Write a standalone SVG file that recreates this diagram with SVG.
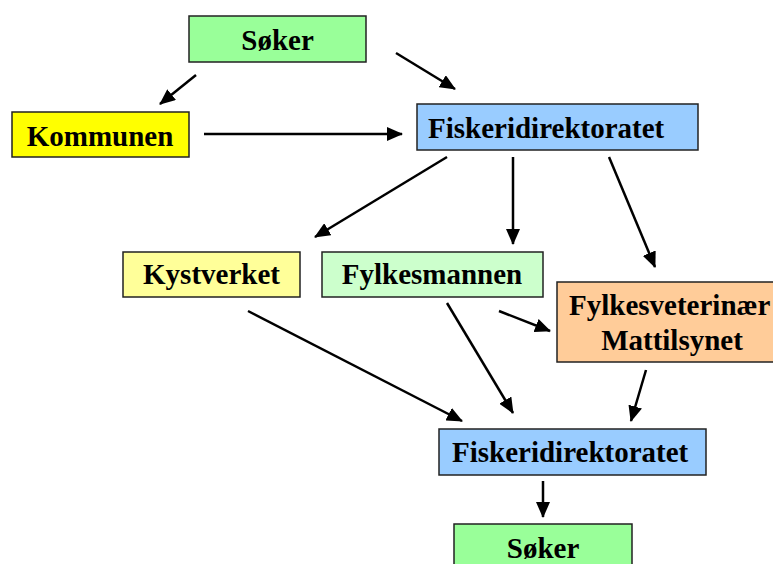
<svg xmlns="http://www.w3.org/2000/svg" width="773" height="564" viewBox="0 0 773 564">
<defs>
<marker id="ah" markerUnits="userSpaceOnUse" markerWidth="16" markerHeight="14" viewBox="0 0 16 14" refX="15" refY="7" orient="auto">
<path d="M0,0 L16,7 L0,14 z" fill="#000"/>
</marker>
<style>
.box{stroke:#222;stroke-width:1.5}
.t{font-family:"Liberation Serif","Times New Roman",serif;font-weight:bold;font-size:29px;fill:#000}
.c line{stroke:#000;stroke-width:2.5;marker-end:url(#ah)}
</style>
</defs>
<rect width="773" height="564" fill="#fff"/>
<g id="soker1"><rect class="box" x="189" y="16" width="177" height="46" fill="#99FF99"/><text class="t" x="277.5" y="50" text-anchor="middle">Søker</text></g>
<g id="kommunen"><rect class="box" x="12" y="112" width="177" height="45" fill="#FFFF00"/><text class="t" x="100" y="145.5" text-anchor="middle">Kommunen</text></g>
<g id="fisk1"><rect class="box" x="417" y="104" width="281" height="46" fill="#99CCFF"/><text class="t" x="428" y="137.5">Fiskeridirektoratet</text></g>
<g id="kystverket"><rect class="box" x="123" y="252" width="177" height="45" fill="#FFFF99"/><text class="t" x="211.5" y="283.5" text-anchor="middle">Kystverket</text></g>
<g id="fylkesmannen"><rect class="box" x="322" y="252" width="221" height="45" fill="#CCFFCC"/><text class="t" x="432" y="283.5" text-anchor="middle">Fylkesmannen</text></g>
<g id="fylkesvet"><rect class="box" x="557" y="282" width="230" height="80" fill="#FFCC99"/><text class="t" x="569" y="315">Fylkesveterinær</text><text class="t" x="672" y="350" text-anchor="middle">Mattilsynet</text></g>
<g id="fisk2"><rect class="box" x="439" y="429" width="267" height="46" fill="#99CCFF"/><text class="t" x="452" y="461.5">Fiskeridirektoratet</text></g>
<g id="soker2"><rect class="box" x="454" y="524" width="178" height="50" fill="#99FF99"/><text class="t" x="543" y="558" text-anchor="middle">Søker</text></g>
<g id="connectors" class="c">
<line x1="196" y1="75" x2="160" y2="104"/>
<line x1="396" y1="53" x2="455" y2="89"/>
<line x1="204" y1="134" x2="402" y2="134"/>
<line x1="447" y1="157" x2="315" y2="237"/>
<line x1="513" y1="157" x2="513" y2="244"/>
<line x1="609" y1="157" x2="655" y2="267"/>
<line x1="248" y1="311" x2="462" y2="421"/>
<line x1="447" y1="303" x2="513" y2="413"/>
<line x1="499" y1="311" x2="550" y2="331"/>
<line x1="646" y1="370" x2="631" y2="421"/>
<line x1="543" y1="481" x2="543" y2="517"/>
</g>
</svg>
